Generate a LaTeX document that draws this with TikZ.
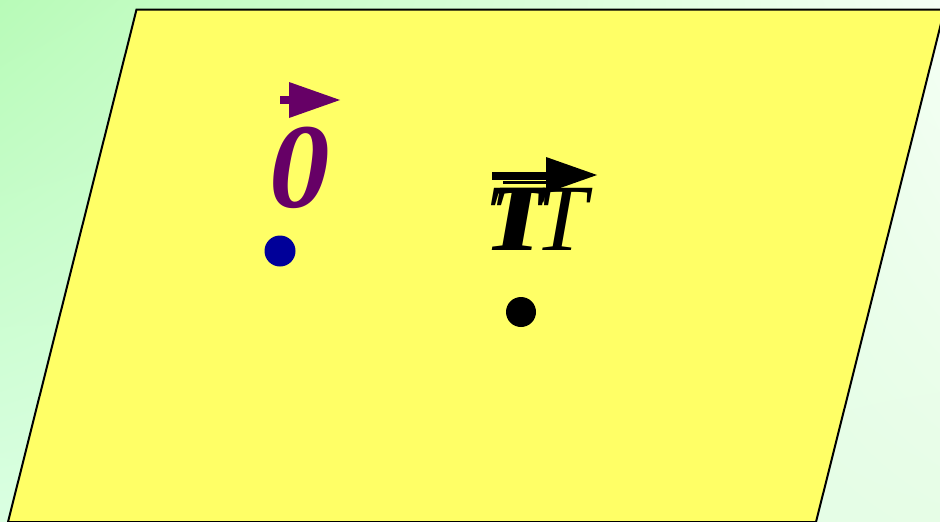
\documentclass[tikz,border=0pt]{standalone}
\usepackage{fontspec}
\setmainfont{Liberation Serif}
\usetikzlibrary{shadings}
\definecolor{bgA}{HTML}{B8FBB8}
\definecolor{bgB}{HTML}{F4FFF4}
\definecolor{bgC}{HTML}{DAFFE2}
\definecolor{bgD}{HTML}{E6FDE6}
\definecolor{planeyellow}{HTML}{FFFF66}
\definecolor{vecpurple}{HTML}{660066}
\definecolor{dotblue}{HTML}{000099}
\begin{document}
\begin{tikzpicture}[x=1pt,y=-1pt,
  dot/.style={circle,inner sep=0pt,minimum size=31pt},
  biglabel/.style={inner sep=0pt,anchor=base},
  boldT/.style={biglabel,anchor=base west,font=\fontsize{95}{95}\selectfont\bfseries\itshape},
  plane/.style={fill=planeyellow,draw=black,line width=2pt,line join=miter}]
\useasboundingbox (0,0) rectangle (940,522);
\clip (0,0) rectangle (940,522);
\shade[upper left=bgA,upper right=bgB,lower left=bgC,lower right=bgD] (0,0) rectangle (940,522);
\draw[plane] (136.5,9.5) -- (944.5,9.5) -- (816,522) -- (8,522) -- cycle;
% zero vector label
\node[biglabel,text=vecpurple,font=\fontsize{121}{121}\selectfont\bfseries\itshape] (zero) at (300,207) {0};
\fill[vecpurple] (280,96) rectangle (290,104);
\fill[vecpurple] (289,82) -- (340,100) -- (289,118) -- cycle;
\node[dot,fill=dotblue] (O) at (280,251) {};
% T label
\node[boldT] (T1) at (484,250) {T};
\node[boldT] (T1b) at (490,250) {T};
\node[biglabel,anchor=base west,font=\fontsize{95}{95}\selectfont\itshape] (T2) at (534,250) {T};
\fill[black] (492,172) rectangle (547,180);
\fill[black] (503,181) rectangle (547,184);
\fill[black] (546,157) -- (597,175) -- (546,193) -- cycle;
\node[dot,fill=black,minimum size=30pt] (P) at (521,312) {};
\end{tikzpicture}
\end{document}
